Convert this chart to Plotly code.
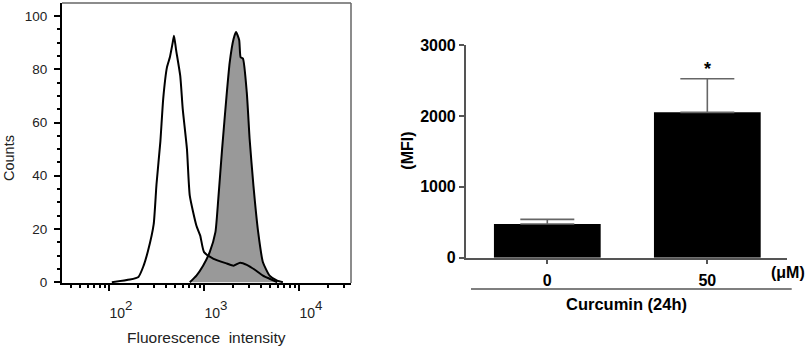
import plotly.graph_objects as go

# ---------------- data ----------------
# Histogram (flow cytometry) – control (open curve)
ctrl_intensity = [107, 166, 204, 229, 257, 295, 316, 347, 372, 407, 437, 468, 483, 507, 562,
                  597, 661, 708, 832, 912, 1000, 1259, 1738, 2042, 2399, 2818, 3548, 4169, 4898, 5888]
ctrl_counts = [0, 1, 2, 5.8, 11.7, 21.7, 36.8, 52.8, 69, 80.7, 84.5, 90, 92.6, 87.5, 77.5,
               65, 50, 32.5, 21.2, 17.5, 11.3, 8.8, 7, 6.2, 7.3, 6.5, 4.3, 2.5, 1.3, 0]

# Curcumin treated (filled curve)
cur_intensity = [708, 832, 977, 1148, 1318, 1413, 1549, 1738, 1862, 2042, 2173, 2344, 2427,
                 2570, 2818, 3020, 3311, 3715, 4169, 4898, 5888, 6761]
cur_counts = [0, 2.5, 6.2, 11.3, 18.8, 31.3, 50, 71.3, 82.5, 91.3, 94, 91, 84.5,
              84, 71.3, 53.8, 36.3, 18.8, 7.5, 2.5, 0.6, 0]

hist_xticks = [100, 1000, 10000]
hist_xexponents = ["2", "3", "4"]
hist_yticks = [0, 20, 40, 60, 80, 100]

# Bar chart
doses = ["0", "50"]
mfi_mean = [475, 2050]
mfi_sem = [65, 475]
mfi_ticks = [0, 1000, 2000, 3000]
sig_label = "*"

FONT = "Arial, Liberation Sans, sans-serif"

hist_xticktext = ["10<span style='font-size:19px'><sup>%s</sup></span>" % e for e in hist_xexponents]

fig = go.Figure()

# filled histogram first
fig.add_trace(go.Scatter(
    x=cur_intensity, y=cur_counts, mode="lines",
    line=dict(color="black", width=2, shape="spline", smoothing=0.5),
    fill="tozeroy", fillcolor="#999999",
    xaxis="x", yaxis="y", showlegend=False, hoverinfo="skip"))
fig.add_trace(go.Scatter(
    x=ctrl_intensity, y=ctrl_counts, mode="lines",
    line=dict(color="black", width=2, shape="spline", smoothing=0.5),
    xaxis="x", yaxis="y", showlegend=False, hoverinfo="skip"))

# bar chart
fig.add_trace(go.Bar(
    x=doses, y=mfi_mean, marker=dict(color="black", line=dict(width=0)),
    error_y=dict(type="data", array=mfi_sem, arrayminus=[0] * len(mfi_sem),
                 symmetric=False, color="#666666", thickness=1.6, width=27),
    xaxis="x2", yaxis="y2", showlegend=False, hoverinfo="skip"))

fig.update_layout(
    width=809, height=347,
    margin=dict(l=0, r=0, t=0, b=0, autoexpand=False),
    paper_bgcolor="white", plot_bgcolor="white",
    font=dict(family=FONT, color="black"),
    bargap=0.333,
    xaxis=dict(
        domain=[62 / 809, 351 / 809], type="log", range=[1.505, 4.547],
        tickmode="array", tickvals=hist_xticks, ticktext=hist_xticktext,
        ticks="outside", ticklen=6, tickwidth=2, tickcolor="black",
        minor=dict(ticks="outside", ticklen=3, tickwidth=1.5, tickcolor="black", dtick="D1", showgrid=False),
        showline=True, linecolor="black", linewidth=2,
        showgrid=False, zeroline=False, automargin=False,
        tickfont=dict(size=14, family=FONT, color="#222"),
        ticklabelshift=12, ticklabelstandoff=10,
        anchor="y"),
    yaxis=dict(
        domain=[(347 - 283) / 347, (347 - 3) / 347], range=[-0.3, 104.9],
        tickmode="array", tickvals=hist_yticks,
        ticks="outside", ticklen=6, tickwidth=2, tickcolor="black",
        minor=dict(ticks="outside", ticklen=3, tickwidth=1.5, tickcolor="black", dtick=5, showgrid=False),
        showline=True, linecolor="black", linewidth=2,
        showgrid=False, zeroline=False, automargin=False,
        tickfont=dict(size=13.5, family=FONT, color="#222"),
        ticklabelstandoff=4,
        anchor="x"),
    xaxis2=dict(
        domain=[465.7 / 809, 786.7 / 809], type="category", range=[-0.51, 1.496],
        ticks="outside", ticklen=5, tickwidth=1.5, tickcolor="#555",
        showline=True, linecolor="#555", linewidth=1.5,
        showgrid=False, zeroline=False, automargin=False,
        tickfont=dict(size=16, family=FONT, color="black", weight="bold"),
        ticklabelstandoff=2,
        anchor="y2"),
    yaxis2=dict(
        domain=[(347 - 257.7) / 347, (347 - 45) / 347], range=[0, 3000],
        tickmode="array", tickvals=mfi_ticks,
        ticks="outside", ticklen=5, tickwidth=1.5, tickcolor="#555",
        showline=True, linecolor="#555", linewidth=1.5,
        showgrid=False, zeroline=False, automargin=False,
        tickfont=dict(size=16, family=FONT, color="black", weight="bold"),
        anchor="x2"),
)

# frame (top & right) of the histogram panel
fig.add_shape(type="line", xref="x domain", yref="y domain", x0=0, x1=1, y0=1, y1=1,
              line=dict(color="#666", width=1.5))
fig.add_shape(type="line", xref="x domain", yref="y domain", x0=1, x1=1, y0=0, y1=1,
              line=dict(color="#666", width=1.5))

# line under the bar chart tick labels
fig.add_shape(type="line", xref="paper", yref="paper", x0=471 / 809, x1=791.7 / 809,
              y0=(347 - 289) / 347, y1=(347 - 289) / 347, line=dict(color="#555", width=1.5))

ann = [
    dict(text="Counts", x=9 / 809, y=(347 - 158) / 347, textangle=-90,
         font=dict(size=14.5, family=FONT, color="#222")),
    dict(text="Fluorescence\u00a0\u00a0intensity", x=206 / 809, y=(347 - 337) / 347,
         font=dict(size=15.5, family=FONT, color="#222")),
    dict(text="<b>(MFI)</b>", x=406.7 / 809, y=(347 - 151) / 347, textangle=-90,
         font=dict(size=16, family=FONT, color="black")),
    dict(text="<b>(\u03bcM)</b>", x=788 / 809, y=(347 - 272) / 347,
         font=dict(size=16, family=FONT, color="black")),
    dict(text="<b>Curcumin (24h)</b>", x=626.7 / 809, y=(347 - 304) / 347,
         font=dict(size=16.5, family=FONT, color="black")),
]
for a in ann:
    fig.add_annotation(xref="paper", yref="paper", showarrow=False,
                       xanchor="center", yanchor="middle", **a)

# significance star above the treated bar's error bar
sig_idx = len(doses) - 1
fig.add_annotation(x=sig_idx, y=mfi_mean[sig_idx] + mfi_sem[sig_idx], xref="x2", yref="y2",
                   text="<b>%s</b>" % sig_label, showarrow=False, yanchor="bottom", yshift=-2,
                   font=dict(size=18, family=FONT, color="black"))

fig.write_html("out.html", config={"displayModeBar": False},
               post_script="document.body.style.margin='0';document.body.style.overflow='hidden';")
